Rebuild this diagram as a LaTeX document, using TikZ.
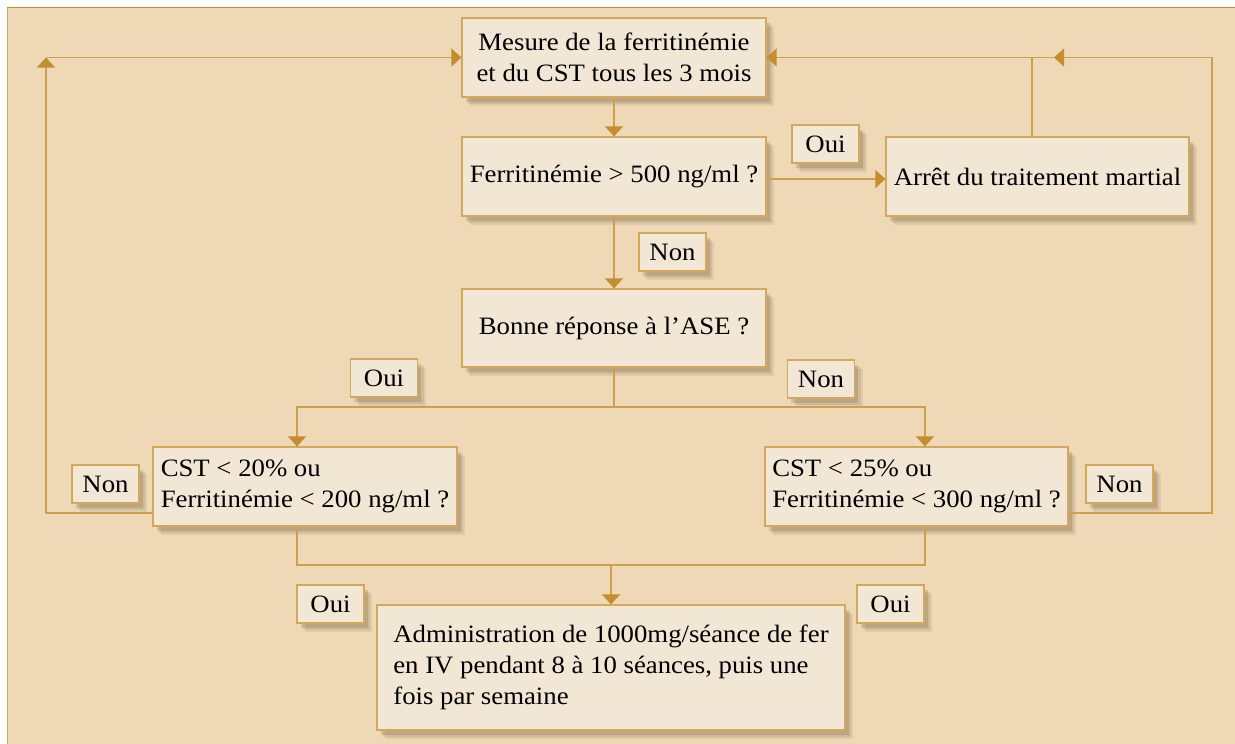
\documentclass[tikz,border=0pt]{standalone}
\usepackage{fontspec}
\setmainfont{Liberation Serif}[FakeStretch=1.07]
\usetikzlibrary{arrows.meta,calc,shadows}
\definecolor{panelc}{RGB}{238,216,182}
\definecolor{boxc}{RGB}{242,230,213}
\definecolor{bordc}{RGB}{210,168,92}
\definecolor{linec}{RGB}{205,160,75}
\definecolor{arrc}{RGB}{196,142,46}
\definecolor{shc}{RGB}{110,85,50}
\tikzset{
  boxnode/.style={draw=bordc, fill=boxc, line width=1.2pt, inner sep=0pt,
    font=\fontsize{25}{31}\selectfont, text=black,
    drop shadow={shadow xshift=8pt, shadow yshift=-9pt, opacity=0.10, fill=shc},
    drop shadow={shadow xshift=6pt, shadow yshift=-7pt, opacity=0.14, fill=shc},
    drop shadow={shadow xshift=3.5pt, shadow yshift=-4.5pt, opacity=0.20, fill=shc}},
  lbl/.style={boxnode, minimum width=67pt, minimum height=38pt},
  conn/.style={draw=linec, line width=1.3pt},
  arr/.style={conn, -{Triangle[length=10pt,width=18pt,color=arrc]}}
}
\begin{document}
\begin{tikzpicture}[x=1pt,y=-1pt]
\useasboundingbox (0,0) rectangle (1235,744);
\fill[white] (0,0) rectangle (1235,744);
\fill[panelc] (7,7) rectangle (1236,745);
\draw[draw=bordc, line width=1pt] (7,745) -- (7,7);
\draw[draw=arrc, line width=1pt] (7,7) -- (1236,7);

% main boxes
\node[boxnode, minimum width=304pt, minimum height=79pt, align=center] (b1) at (614,57.5)
  {Mesure de la ferritinémie\\et du CST tous les 3 mois};
\node[boxnode, minimum width=304pt, minimum height=79pt, align=center] (b2) at (614,176.5)
  {Ferritinémie > 500 ng/ml ?};
\node[boxnode, minimum width=303pt, minimum height=79pt, align=center] (b3) at (1037.5,176.5)
  {Arrêt du traitement martial};
\node[boxnode, minimum width=304pt, minimum height=78pt, align=center] (b4) at (614,328)
  {Bonne réponse à l’ASE ?};
\node[boxnode, minimum width=304pt, minimum height=79pt, align=left] (b5) at (305,486.5)
  {CST < 20\% ou\\Ferritinémie < 200 ng/ml ?};
\node[boxnode, minimum width=303pt, minimum height=79pt, align=left] (b6) at (916.5,486.5)
  {CST < 25\% ou\\Ferritinémie < 300 ng/ml ?};
\node[boxnode, minimum width=468pt, minimum height=125pt, align=left] (b7) at (611,667.5)
  {Administration de 1000mg/séance de fer\\en IV pendant 8 à 10 séances, puis une\\fois par semaine};

% labels
\node[lbl] (ouiA) at (825.5,144) {Oui};
\node[lbl] (nonA) at (672.5,252) {Non};
\node[lbl] (ouiB) at (384,378) {Oui};
\node[lbl] (nonB) at (821,379) {Non};
\node[lbl] (nonC) at (105.5,484) {Non};
\node[lbl] (nonD) at (1119.5,484) {Non};
\node[lbl] (ouiC) at (330.5,604) {Oui};
\node[lbl] (ouiD) at (890.5,604) {Oui};

% junction coordinates
\coordinate (jL) at (297,407);
\coordinate (jR) at (925,407);
\coordinate (mL) at (297,565);
\coordinate (mR) at (925,565);
\coordinate (mC) at (611,565);
\coordinate (cTL) at (46,57.5);
\coordinate (cBL) at (46,513);
\coordinate (cTR) at (1212,57.5);
\coordinate (cBR) at (1212,513);
\coordinate (aTR) at (1054,57.5);
\coordinate (j3) at (1032,57.5);

% connectors
\draw[arr] (b1.south) -- (b2.north);
\draw[arr] ($(b2.east)+(0,2.5)$) -- ($(b3.west)+(0,2.5)$);
\draw[arr] (b2.south) -- (b4.north);
\draw[arr] (b4.south) |- (jL) -- (jL |- b5.north);
\draw[arr] (b4.south) |- (jR) -- (jR |- b6.north);
\draw[conn] (jL |- b5.south) -- (mL) -- (mR) -- (jR |- b6.south);
\draw[arr] (mC) -- (b7.north);
% left loop
\draw[arr] ($(b5.west)+(0,26.5)$) -- (cBL) -- (cTL);
\draw[arr] (cTL) -- (b1.west);
% right loop
\draw[arr] ($(b6.east)+(0,26.5)$) -- (cBR) -- (cTR) -- (aTR);
\draw[arr] (aTR) -- (b1.east);
\draw[conn] (j3 |- b3.north) -- (j3);
\end{tikzpicture}
\end{document}
